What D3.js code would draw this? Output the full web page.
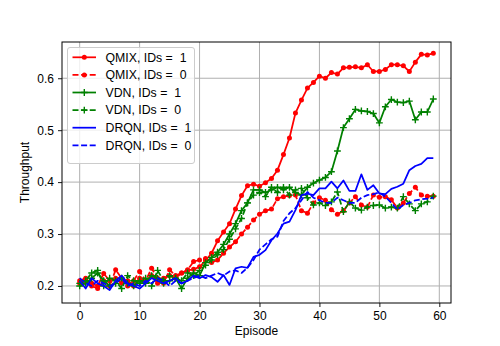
<!DOCTYPE html>
<html><head><meta charset="utf-8">
<script src="https://cdn.jsdelivr.net/npm/d3@7"></script>
<style>body{margin:0;background:#fff}text{font-family:"Liberation Sans",Arial,sans-serif}</style>
</head><body><svg id="c" width="500" height="346"></svg>
<script>
const episodes = d3.range(0, 60);
const qmix1 = [0.205,0.21,0.205,0.2,0.224,0.21,0.215,0.205,0.21,0.2,0.215,0.21,0.22,0.205,0.215,0.22,0.215,0.225,0.23,0.232,
  0.237,0.249,0.263,0.287,0.304,0.32,0.348,0.374,0.393,0.396,0.392,0.399,0.407,0.423,0.453,0.485,0.533,0.558,0.581,0.592,
  0.604,0.600,0.611,0.608,0.620,0.621,0.622,0.620,0.626,0.613,0.613,0.617,0.626,0.626,0.624,0.613,0.631,0.646,0.645,0.648];
const qmix0 = [0.21,0.215,0.2,0.195,0.21,0.2,0.231,0.215,0.2,0.21,0.228,0.21,0.234,0.215,0.205,0.231,0.22,0.225,0.231,0.247,
  0.25,0.253,0.245,0.25,0.263,0.275,0.285,0.30,0.313,0.327,0.338,0.345,0.348,0.368,0.372,0.374,0.375,0.345,0.34,0.36,
  0.37,0.365,0.347,0.338,0.345,0.36,0.372,0.356,0.352,0.375,0.371,0.372,0.366,0.35,0.36,0.378,0.39,0.375,0.373,0.373];
const vdn1 = [0.2,0.205,0.215,0.225,0.21,0.2,0.205,0.215,0.205,0.2,0.21,0.205,0.22,0.215,0.205,0.21,0.215,0.195,0.215,0.225,
  0.22,0.245,0.255,0.265,0.28,0.3,0.32,0.345,0.36,0.385,0.385,0.38,0.385,0.39,0.385,0.39,0.38,0.375,0.39,0.398,
  0.404,0.409,0.42,0.46,0.505,0.522,0.54,0.537,0.536,0.532,0.514,0.545,0.559,0.554,0.553,0.556,0.52,0.535,0.535,0.56];
const vdn0 = [0.205,0.21,0.225,0.23,0.2,0.215,0.21,0.195,0.22,0.21,0.205,0.215,0.2,0.23,0.21,0.22,0.215,0.21,0.225,0.22,
  0.23,0.24,0.25,0.26,0.27,0.29,0.31,0.33,0.36,0.375,0.38,0.372,0.39,0.38,0.39,0.375,0.385,0.388,0.37,0.356,
  0.36,0.355,0.362,0.381,0.343,0.362,0.35,0.346,0.352,0.355,0.356,0.35,0.352,0.35,0.372,0.358,0.345,0.358,0.362,0.373];
const drqn1 = [0.21,0.195,0.215,0.205,0.2,0.192,0.21,0.22,0.205,0.2,0.195,0.205,0.215,0.21,0.205,0.21,0.215,0.205,0.21,0.22,
  0.215,0.221,0.217,0.208,0.221,0.202,0.234,0.237,0.235,0.256,0.26,0.269,0.288,0.301,0.32,0.324,0.346,0.375,0.378,0.375,
  0.388,0.388,0.401,0.388,0.403,0.383,0.383,0.415,0.385,0.394,0.378,0.377,0.387,0.391,0.397,0.423,0.431,0.435,0.446,0.446];
const drqn0 = [0.215,0.205,0.2,0.21,0.205,0.2,0.205,0.215,0.2,0.205,0.2,0.21,0.205,0.215,0.21,0.2,0.21,0.205,0.21,0.215,
  0.22,0.215,0.22,0.225,0.22,0.228,0.23,0.225,0.235,0.25,0.27,0.28,0.29,0.295,0.325,0.34,0.35,0.365,0.381,0.37,
  0.365,0.36,0.36,0.37,0.365,0.36,0.36,0.37,0.375,0.377,0.38,0.372,0.36,0.347,0.356,0.36,0.365,0.367,0.368,0.37];
const seriesNames = ["QMIX, IDs =  1","QMIX, IDs =  0","VDN, IDs =  1","VDN, IDs =  0","DRQN, IDs =  1","DRQN, IDs =  0"];
const xTicks = [0,10,20,30,40,50,60];
const yTicks = [0.2,0.3,0.4,0.5,0.6];

const series = [
  {name: seriesNames[0], values: qmix1, color: "#ff0000", dashed: false, marker: "o"},
  {name: seriesNames[1], values: qmix0, color: "#ff0000", dashed: true, marker: "o"},
  {name: seriesNames[2], values: vdn1, color: "#008000", dashed: false, marker: "+"},
  {name: seriesNames[3], values: vdn0, color: "#008000", dashed: true, marker: "+"},
  {name: seriesNames[4], values: drqn1, color: "#0000ff", dashed: false, marker: null},
  {name: seriesNames[5], values: drqn0, color: "#0000ff", dashed: true, marker: null}
];

const L = 62, R = 451, T = 42, B = 303;
const svg = d3.select("#c");
const x = d3.scaleLinear().domain([-2.95, 61.95]).range([L, R]);
const y = d3.scaleLinear().domain([0.1672, 0.6698]).range([B, T]);

svg.append("clipPath").attr("id","clip").append("rect").attr("x",L).attr("y",T).attr("width",R-L).attr("height",B-T);

const g = svg.append("g");
g.selectAll(".gx").data(xTicks).join("line").attr("x1",d=>x(d)).attr("x2",d=>x(d)).attr("y1",T).attr("y2",B)
  .attr("stroke","#b0b0b0").attr("stroke-width",1);
g.selectAll(".gy").data(yTicks).join("line").attr("y1",d=>y(d)).attr("y2",d=>y(d)).attr("x1",L).attr("x2",R)
  .attr("stroke","#b0b0b0").attr("stroke-width",1);

const xAxis = d3.axisBottom(x).tickValues(xTicks).tickSize(4).tickPadding(4).tickFormat(d3.format("d"));
const yAxis = d3.axisLeft(y).tickValues(yTicks).tickSize(4).tickPadding(4).tickFormat(d3.format(".1f"));
const gx = svg.append("g").attr("transform",`translate(0,${B})`).call(xAxis);
const gy = svg.append("g").attr("transform",`translate(${L},0)`).call(yAxis);
[gx, gy].forEach(a => {
  a.select(".domain").remove();
  a.selectAll("line").attr("stroke","#000").attr("stroke-width",0.9);
  a.selectAll("text").attr("fill","#000").style("font-size","12px").style("font-family","Liberation Sans, Arial, sans-serif");
});

const line = d3.line().x((d,i)=>x(episodes[i])).y(d=>y(d));
const plot = svg.append("g").attr("clip-path","url(#clip)");
series.forEach(s => {
  plot.append("path").attr("d", line(s.values)).attr("fill","none").attr("stroke",s.color)
    .attr("stroke-width",1.75).attr("stroke-linejoin","round")
    .attr("stroke-dasharray", s.dashed ? "6,2.6" : null);
  if (s.marker === "o") {
    plot.selectAll(null).data(s.values).join("circle").attr("cx",(d,i)=>x(episodes[i])).attr("cy",d=>y(d))
      .attr("r",2.5).attr("fill",s.color);
  } else if (s.marker === "+") {
    plot.selectAll(null).data(s.values).join("path")
      .attr("d",(d,i)=>{const cx=x(episodes[i]), cy=y(d), h=3.4; return `M${cx-h},${cy}H${cx+h}M${cx},${cy-h}V${cy+h}`;})
      .attr("stroke",s.color).attr("stroke-width",1.4).attr("fill","none");
  }
});

svg.append("rect").attr("x",L).attr("y",T).attr("width",R-L).attr("height",B-T).attr("fill","none")
  .attr("stroke","#000").attr("stroke-width",1);

svg.append("text").attr("x",(L+R)/2).attr("y",335).attr("text-anchor","middle").style("font-size","12px").text("Episode");
svg.append("text").attr("transform",`translate(29,${(T+B)/2}) rotate(-90)`).attr("text-anchor","middle")
  .style("font-size","12px").text("Throughput");

const lg = svg.append("g");
lg.append("rect").attr("x",67.5).attr("y",47.5).attr("width",127).attr("height",116).attr("rx",2.5)
  .attr("fill","#fff").attr("fill-opacity",0.8).attr("stroke","#cccccc").attr("stroke-width",1);
series.forEach((s,i) => {
  const yy = 57.3 + i*17.6;
  lg.append("line").attr("x1",72.5).attr("x2",96).attr("y1",yy).attr("y2",yy).attr("stroke",s.color)
    .attr("stroke-width",1.75).attr("stroke-dasharray", s.dashed ? "6,2.6" : null);
  if (s.marker === "o") lg.append("circle").attr("cx",84.3).attr("cy",yy).attr("r",2.5).attr("fill",s.color);
  if (s.marker === "+") lg.append("path").attr("d",`M${84.3-3.4},${yy}H${84.3+3.4}M84.3,${yy-3.4}V${yy+3.4}`)
    .attr("stroke",s.color).attr("stroke-width",1.4);
  lg.append("text").attr("x",105.5).attr("y",yy+4.3).style("font-size","12.3px").style("white-space","pre").text(s.name);
});
</script></body></html>
